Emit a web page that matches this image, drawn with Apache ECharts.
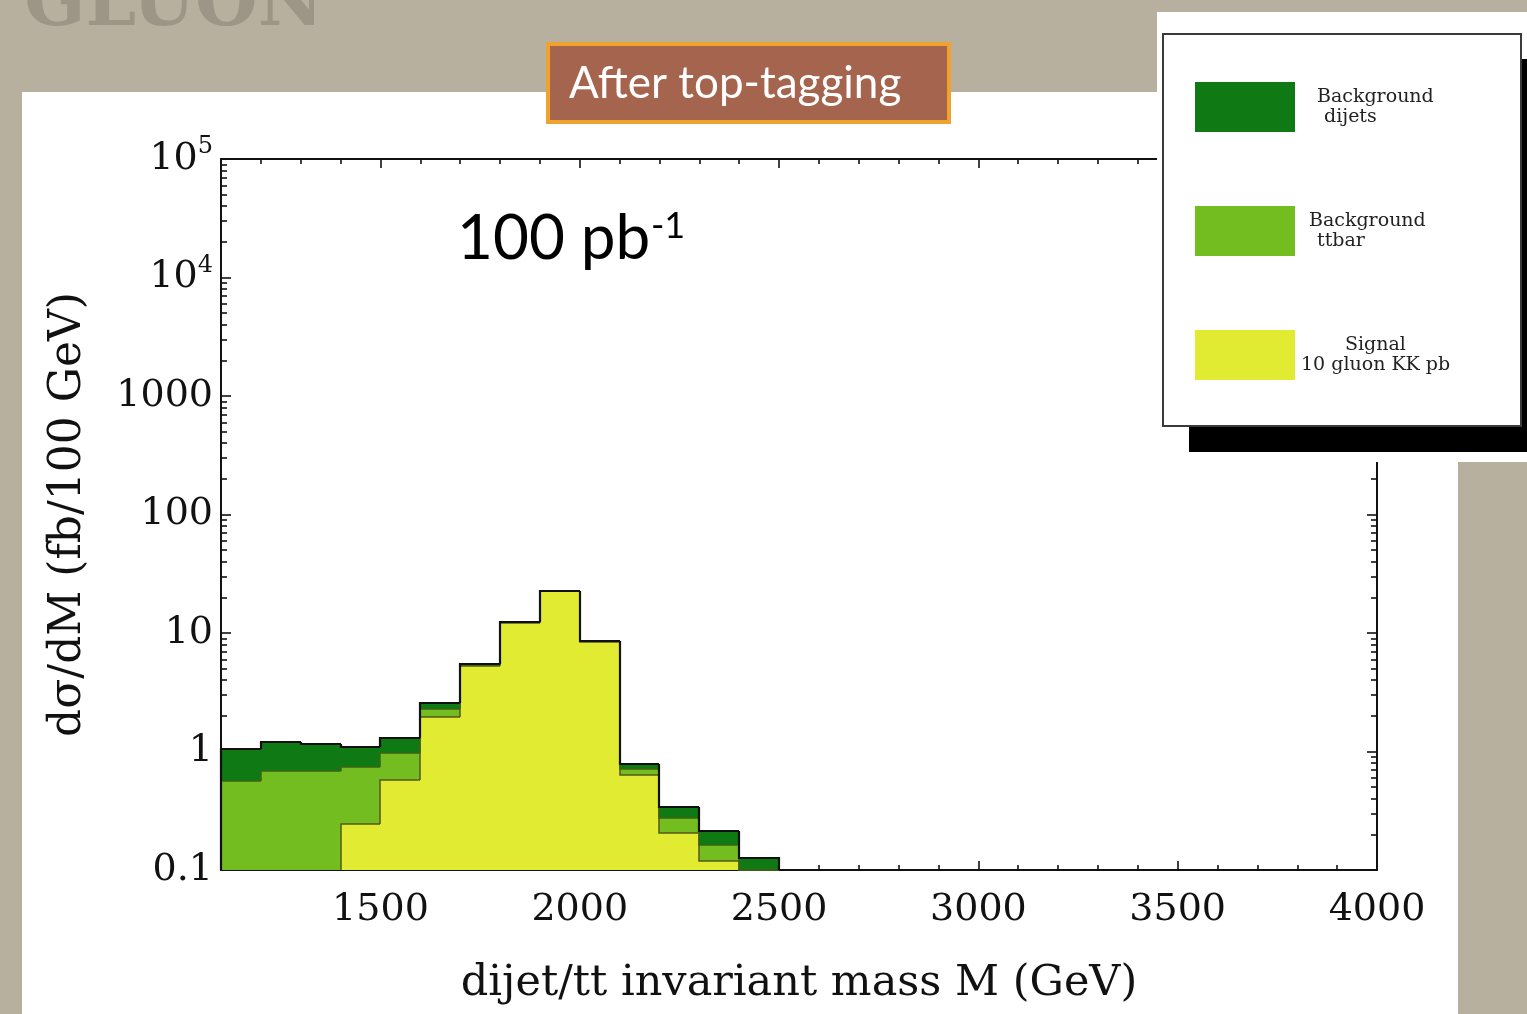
<!DOCTYPE html>
<html>
<head>
<meta charset="utf-8">
<title>After top-tagging</title>
<script src="https://cdn.jsdelivr.net/npm/echarts@6/dist/echarts.min.js"></script>
<style>
  html, body { margin: 0; padding: 0; background: #b8b09f; }
  #chart { width: 1527px; height: 1014px; }
</style>
</head>
<body>
<div id="chart"></div>
<script>
// Histogram bins: lower edge of each 100 GeV bin
const BIN_START = [1100, 1200, 1300, 1400, 1500, 1600, 1700, 1800, 1900, 2000, 2100, 2200, 2300, 2400];
const BIN_WIDTH = 100;

// dσ/dM (fb / 100 GeV) per bin, stacked bottom to top: signal, ttbar, dijets
const SIGNAL = [0, 0, 0, 0.246, 0.575, 1.94, 5.25, 12.1, 22.4, 8.35, 0.634, 0.206, 0.118, 0.045];
const TTBAR  = [0.564, 0.684, 0.69, 0.49, 0.402, 0.34, 0.14, 0.18, 0.22, 0.14, 0.074, 0.067, 0.045, 0.03];
const DIJETS = [0.48, 0.512, 0.46, 0.362, 0.331, 0.30, 0.12, 0.16, 0.16, 0.12, 0.081, 0.065, 0.052, 0.052];

// Axis ticks and labels
const X_MIN = 1100, X_MAX = 4000;
const X_MAJOR = [1500, 2000, 2500, 3000, 3500, 4000];
const X_MINOR = [1100, 1200, 1300, 1400, 1600, 1700, 1800, 1900, 2100, 2200, 2300, 2400,
                 2600, 2700, 2800, 2900, 3100, 3200, 3300, 3400, 3600, 3700, 3800, 3900];
const Y_MIN = 0.1, Y_MAX = 100000;
const Y_MAJOR = [0.1, 1, 10, 100, 1000, 10000, 100000];
const Y_MAJOR_TEXT = ['0.1', '1', '10', '100', '1000', '{m|10}{s|4}', '{m|10}{s|5}'];
const Y_MINOR = [];
for (let d = 0.1; d < 50000; d *= 10) {
  for (let k = 2; k <= 9; k++) Y_MINOR.push(+(d * k).toPrecision(3));
}

const LEGEND_TEXT = {
  'Background dijets': '{d1|Background}\n{d2|dijets}',
  'Background ttbar': '{t1|Background}\n{t2|ttbar}',
  'Signal 10 gluon KK pb': '{s1|Signal}\n{s2|10 gluon KK pb}'
};

const SERIF = '"DejaVu Serif", "Liberation Serif", serif';
const INK = '#111';

// Build stacked layers
const layers = [
  { name: 'Signal 10 gluon KK pb', values: SIGNAL, color: '#e1eb31', stroke: '#56571d', width: 1.5 },
  { name: 'Background ttbar', values: TTBAR, color: '#73bd21', stroke: '#3d6315', width: 1.5 },
  { name: 'Background dijets', values: DIJETS, color: '#0f7a13', stroke: '#111111', width: 2.2 }
];
let base = BIN_START.map(() => 0);
layers.forEach(layer => {
  const top = base.map((b, i) => b + layer.values[i]);
  const n = BIN_START.length;
  layer.data = BIN_START.map((x, i) => [
    x, x + BIN_WIDTH, base[i], top[i],
    i > 0 ? top[i - 1] : 0,
    i < n - 1 ? top[i + 1] : 0
  ]);
  base = top;
});

function stepRenderer(layer) {
  const lastIndex = layer.data.length - 1;
  return function (params, api) {
    const clamp = v => Math.max(v, Y_MIN);
    const px = p => [Math.round(p[0]), Math.round(p[1])];
    const x0 = api.value(0), x1 = api.value(1);
    const lo = clamp(api.value(2)), hi = clamp(api.value(3));
    const prev = clamp(api.value(4)), next = clamp(api.value(5));
    const children = [];
    if (hi > lo) {
      const tl = px(api.coord([x0, hi]));
      const br = px(api.coord([x1, lo]));
      children.push({
        type: 'rect', z2: 0,
        shape: { x: tl[0], y: tl[1], width: br[0] - tl[0], height: br[1] - tl[1] },
        style: { fill: layer.color }
      });
    }
    if (hi > Y_MIN || prev > Y_MIN) {
      const pts = [px(api.coord([x0, prev])), px(api.coord([x0, hi])), px(api.coord([x1, hi]))];
      if (params.dataIndex === lastIndex) pts.push(px(api.coord([x1, next])));
      children.push({
        type: 'polyline', z2: 10,
        shape: { points: pts },
        style: { stroke: layer.stroke, lineWidth: layer.width, fill: null, lineJoin: 'miter' }
      });
    }
    return { type: 'group', children };
  };
}

const series = layers.map(layer => ({
  type: 'custom',
  name: layer.name,
  xAxisIndex: 0,
  yAxisIndex: 0,
  itemStyle: { color: layer.color },
  encode: { x: [0, 1], y: [2, 3] },
  renderItem: stepRenderer(layer),
  data: layer.data
}));

const tickLine = { color: INK, width: 1.6 };
const frameLine = { show: true, onZero: false, lineStyle: { color: INK, width: 2 } };

function xAxis(grid, pos, major) {
  const ax = {
    type: 'value', gridIndex: grid, position: pos, min: X_MIN, max: X_MAX,
    axisLine: major ? frameLine : { show: false },
    axisTick: { show: true, inside: true, length: major ? 9 : 5, customValues: major ? X_MAJOR : X_MINOR, lineStyle: tickLine },
    axisLabel: { show: false },
    splitLine: { show: false }
  };
  if (major && pos === 'bottom') {
    ax.axisLabel = { show: true, customValues: X_MAJOR, margin: 21, fontFamily: SERIF, fontSize: 38, color: INK,
                     formatter: v => String(v) };
    ax.name = 'dijet/tt invariant mass M (GeV)';
    ax.nameLocation = 'middle';
    ax.nameGap = 92;
    ax.nameTextStyle = { fontFamily: SERIF, fontSize: 43, color: INK };
  }
  return ax;
}

function yAxis(grid, pos, major) {
  const ax = {
    type: 'log', logBase: 10, gridIndex: grid, position: pos, min: Y_MIN, max: Y_MAX,
    axisLine: major ? frameLine : { show: false },
    axisTick: { show: true, inside: true, length: major ? 10 : 6, customValues: major ? Y_MAJOR : Y_MINOR, lineStyle: tickLine },
    axisLabel: { show: false },
    splitLine: { show: false }
  };
  if (major && pos === 'left') {
    ax.axisLabel = {
      show: true, customValues: Y_MAJOR, margin: 8,
      fontFamily: SERIF, fontSize: 38, color: INK,
      formatter: v => {
        const k = Y_MAJOR.findIndex(t => Math.abs(Math.log10(t) - Math.log10(v)) < 1e-6);
        return k >= 0 ? Y_MAJOR_TEXT[k] : '';
      },
      rich: {
        m: { fontFamily: SERIF, fontSize: 38, color: INK },
        s: { fontFamily: SERIF, fontSize: 24, color: INK, padding: [0, 0, 24, 0] }
      }
    };
    ax.name = 'dσ/dM (fb/100 GeV)';
    ax.nameLocation = 'middle';
    ax.nameGap = 130;
    ax.nameTextStyle = { fontFamily: SERIF, fontSize: 44, color: INK };
  }
  return ax;
}

const gridBox = { left: 221, right: 150, top: 159, bottom: 144, containLabel: false };

const legendText = (pad) => ({ fontFamily: SERIF, fontSize: 19, color: '#222', lineHeight: 20, padding: [0, 0, 0, pad] });

const option = {
  backgroundColor: '#b8b09f',
  animation: false,
  grid: [Object.assign({}, gridBox), Object.assign({}, gridBox)],
  xAxis: [xAxis(0, 'bottom', true), xAxis(0, 'top', true), xAxis(1, 'bottom', false), xAxis(1, 'top', false)],
  yAxis: [yAxis(0, 'left', true), yAxis(0, 'right', true), yAxis(1, 'left', false), yAxis(1, 'right', false)],
  legend: {
    orient: 'vertical', left: 1195, top: 82,
    itemWidth: 100, itemHeight: 50, itemGap: 74, icon: 'rect', padding: 0,
    selectedMode: false, z: 120,
    data: ['Background dijets', 'Background ttbar', 'Signal 10 gluon KK pb'],
    formatter: name => LEGEND_TEXT[name],
    textStyle: {
      fontFamily: SERIF, fontSize: 19, color: '#222', lineHeight: 20,
      rich: {
        d1: legendText(17), d2: legendText(24),
        t1: legendText(9), t2: legendText(17),
        s1: legendText(45), s2: legendText(1)
      }
    }
  },
  graphic: [
    // slide panel behind the plot
    { type: 'rect', z: -10, shape: { x: 22, y: 92, width: 1436, height: 922 }, style: { fill: '#ffffff' } },
    // faded slide heading, cut off by the top edge
    { type: 'text', z: -5, x: 24, y: 42,
      style: { text: 'GLUON', fontFamily: '"DejaVu Serif", serif', fontWeight: 'bold', fontSize: 72,
               fill: 'rgba(125,118,105,0.45)', verticalAlign: 'bottom', align: 'left' } },
    // title box
    { type: 'rect', z: 100, shape: { x: 548, y: 44, width: 401, height: 78 },
      style: { fill: '#a5644e', stroke: '#f0a22f', lineWidth: 4 } },
    { type: 'text', z: 101, x: 569, y: 84,
      style: { text: 'After top-tagging', fontFamily: 'Lato, "Open Sans", sans-serif', fontSize: 44,
               fill: '#ffffff', verticalAlign: 'middle', align: 'left' } },
    // luminosity note
    { type: 'text', z: 101, x: 457, y: 239,
      style: { text: '100 pb', fontFamily: 'Lato, "Open Sans", sans-serif', fontSize: 62,
               fill: '#000000', verticalAlign: 'middle', align: 'left' } },
    { type: 'text', z: 101, x: 651, y: 226,
      style: { text: '-1', fontFamily: 'Lato, "Open Sans", sans-serif', fontSize: 36,
               fill: '#000000', verticalAlign: 'middle', align: 'left' } },
    // legend panel
    { type: 'rect', z: 100, shape: { x: 1157, y: 12, width: 370, height: 450 }, style: { fill: '#ffffff' } },
    { type: 'rect', z: 101, shape: { x: 1189, y: 59, width: 338, height: 393 }, style: { fill: '#000000' } },
    { type: 'rect', z: 102, shape: { x: 1163, y: 34, width: 358, height: 392 },
      style: { fill: '#ffffff', stroke: '#3a3a3a', lineWidth: 2 } }
  ],
  series: series
};

const chart = echarts.init(document.getElementById('chart'), null, { renderer: 'canvas' });
chart.setOption(option);
</script>
</body>
</html>
